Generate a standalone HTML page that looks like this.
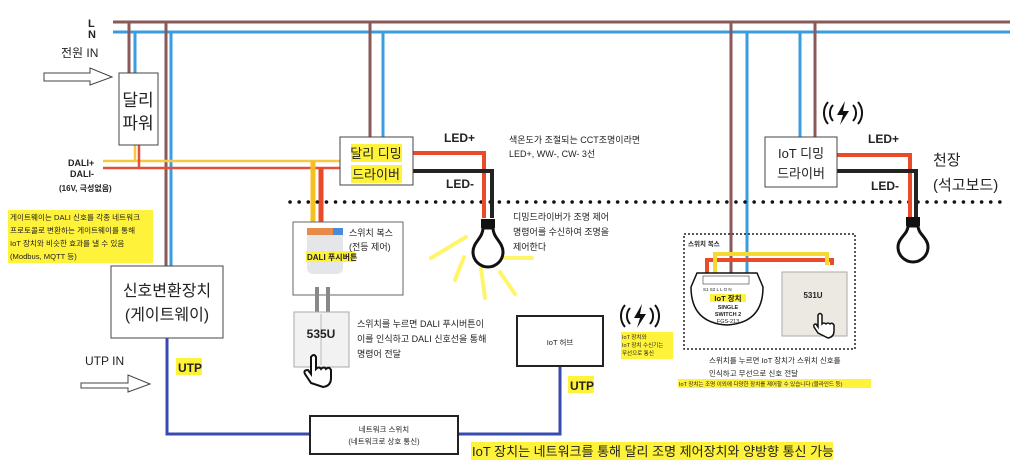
<!DOCTYPE html>
<html><head><meta charset="utf-8"><style>
html,body{margin:0;padding:0;background:#fff}
svg{display:block}
text{font-family:"Liberation Sans","Noto Sans CJK KR",sans-serif;fill:#222}
.b{font-weight:bold}
</style></head><body>
<svg width="1024" height="473" viewBox="0 0 1024 473" xmlns="http://www.w3.org/2000/svg">
<line x1="113" y1="22" x2="1010" y2="22" stroke="#8a5a5a" stroke-width="3"/>
<line x1="113" y1="32" x2="1010" y2="32" stroke="#3a9de0" stroke-width="3"/>
<line x1="129" y1="22" x2="129" y2="73" stroke="#8a5a5a" stroke-width="3"/>
<line x1="135" y1="32" x2="135" y2="73" stroke="#3a9de0" stroke-width="3"/>
<line x1="166" y1="22" x2="166" y2="266" stroke="#8a5a5a" stroke-width="3"/>
<line x1="171" y1="32" x2="171" y2="266" stroke="#3a9de0" stroke-width="3"/>
<line x1="370" y1="22" x2="370" y2="137" stroke="#8a5a5a" stroke-width="3"/>
<line x1="383" y1="32" x2="383" y2="137" stroke="#3a9de0" stroke-width="3"/>
<line x1="731" y1="22" x2="731" y2="275" stroke="#8a5a5a" stroke-width="3"/>
<line x1="747" y1="32" x2="747" y2="275" stroke="#3a9de0" stroke-width="3"/>
<line x1="800" y1="32" x2="800" y2="137" stroke="#3a9de0" stroke-width="3"/>
<line x1="815" y1="22" x2="815" y2="137" stroke="#8a5a5a" stroke-width="3"/>
<line x1="103" y1="161" x2="340" y2="161" stroke="#f5c842" stroke-width="2.5"/>
<line x1="103" y1="168" x2="340" y2="168" stroke="#e0503a" stroke-width="2.5"/>
<line x1="135" y1="145" x2="135" y2="161" stroke="#f5c842" stroke-width="2.5"/>
<line x1="139" y1="145" x2="139" y2="168" stroke="#e0503a" stroke-width="2.5"/>
<line x1="313" y1="161" x2="313" y2="232" stroke="#f5c020" stroke-width="5"/>
<line x1="321" y1="168" x2="321" y2="232" stroke="#e84a2a" stroke-width="5"/>
<text x="88" y="27" class="b" font-size="11">L</text>
<text x="88" y="38" class="b" font-size="11">N</text>
<text x="61" y="57" font-size="12">전원 IN</text>
<polygon points="44,73 90,73 90,68 112,77 90,85 90,81 44,81" fill="#fff" stroke="#444"/>
<rect x="119" y="73" width="39" height="72" fill="#fff" stroke="#444"/>
<text x="138" y="106" font-size="17" text-anchor="middle">달리</text>
<text x="138" y="129" font-size="17" text-anchor="middle">파워</text>
<text x="68" y="166" class="b" font-size="9">DALI+</text>
<text x="70" y="177" class="b" font-size="9">DALI-</text>
<text x="59" y="191" class="b" font-size="8">(16V, 극성없음)</text>
<rect x="8" y="210" width="145" height="53" fill="#fff23a"/>
<text font-size="7.6"><tspan x="10" y="220">게이트웨이는 DALI 신호를 각종 네트워크</tspan><tspan x="10" y="233">프로토콜로 변환하는 게이트웨이를 통해</tspan><tspan x="10" y="246">IoT 장치와 비슷한 효과를 낼 수 있음</tspan><tspan x="10" y="259">(Modbus, MQTT 등)</tspan></text>
<rect x="111" y="266" width="112" height="72" fill="#fff" stroke="#444"/>
<text x="167" y="296" font-size="16" text-anchor="middle">신호변환장치</text>
<text x="167" y="320" font-size="16" text-anchor="middle">(게이트웨이)</text>
<text x="85" y="365" font-size="12">UTP IN</text>
<polygon points="81,383 128,383 128,375 150,384 128,392 128,388 81,388" fill="#fff" stroke="#444"/>
<polyline points="167,338 167,434 310,434" fill="none" stroke="#3a4bb0" stroke-width="3"/>
<polyline points="458,434 560,434 560,366" fill="none" stroke="#3a4bb0" stroke-width="3"/>
<rect x="176" y="358" width="26" height="17" fill="#fff23a"/>
<text x="178" y="372" class="b" font-size="12">UTP</text>
<rect x="310" y="416" width="148" height="38" fill="#fff" stroke="#222" stroke-width="2"/>
<text x="384" y="432" font-size="7.5" text-anchor="middle">네트워크 스위치</text>
<text x="384" y="444" font-size="7.5" text-anchor="middle">(네트워크로 상호 통신)</text>
<rect x="471" y="442" width="362" height="18" fill="#fff23a"/>
<text x="472" y="456" font-size="13">IoT 장치는 네트워크를 통해 달리 조명 제어장치와 양방향 통신 가능</text>
<line x1="290" y1="202" x2="1002" y2="202" stroke="#111" stroke-width="3.5" stroke-dasharray="0.1,9" stroke-linecap="round"/>
<polyline points="413,153 484,153 484,218" fill="none" stroke="#e84a2a" stroke-width="4"/>
<polyline points="413,171 492,171 492,218" fill="none" stroke="#222" stroke-width="4"/>
<rect x="340" y="137" width="73" height="48" fill="#fff" stroke="#444"/>
<rect x="351" y="144" width="51" height="18" fill="#fff23a"/>
<rect x="351" y="165" width="51" height="18" fill="#fff23a"/>
<text x="376" y="158" font-size="13" text-anchor="middle">달리 디밍</text>
<text x="376" y="179" font-size="13" text-anchor="middle">드라이버</text>
<text x="444" y="142" class="b" font-size="12">LED+</text>
<text x="446" y="188" class="b" font-size="12">LED-</text>
<text font-size="9"><tspan x="509" y="143">색온도가 조절되는 CCT조명이라면</tspan><tspan x="509" y="157">LED+, WW-, CW- 3선</tspan></text>
<text font-size="9"><tspan x="513" y="220">디밍드라이버가 조명 제어</tspan><tspan x="513" y="235">명령어를 수신하여 조명을</tspan><tspan x="513" y="250">제어한다</tspan></text>
<g stroke="#fff56a" stroke-width="4" stroke-linecap="round">
<line x1="466" y1="237" x2="431" y2="258"/><line x1="464" y1="257" x2="455" y2="280"/>
<line x1="481" y1="268" x2="485" y2="298"/><line x1="500" y1="272" x2="515" y2="294"/>
<line x1="504" y1="258" x2="532" y2="258"/>
</g>
<rect x="481" y="219" width="14" height="9" fill="#111"/>
<path d="M483,228 C483,238 473,242 473,252 A15,15 0 0 0 503,252 C503,242 493,238 493,228 Z" fill="#fff" stroke="#111" stroke-width="3"/>
<rect x="293" y="222" width="110" height="73" fill="#fff" stroke="#666"/>
<rect x="307" y="228" width="36" height="46" rx="6" fill="#e4e6ea"/>
<rect x="307" y="228" width="36" height="7" fill="#e88a4a"/>
<rect x="333" y="228" width="10" height="7" fill="#4a8ad8"/>
<rect x="306" y="251" width="49" height="11" fill="#fff23a"/>
<text x="307" y="260" class="b" font-size="8">DALI 푸시버튼</text>
<text font-size="9"><tspan x="349" y="236">스위치 복스</tspan><tspan x="349" y="250">(전등 제어)</tspan></text>
<line x1="317" y1="287" x2="317" y2="312" stroke="#888" stroke-width="4"/>
<line x1="328" y1="287" x2="328" y2="312" stroke="#888" stroke-width="4"/>
<rect x="294" y="312" width="55" height="55" fill="#f2f2f2" stroke="#aaa"/>
<line x1="321" y1="314" x2="321" y2="365" stroke="#bbb"/>
<text x="321" y="338" class="b" font-size="12" text-anchor="middle">535U</text>
<path d="M311,383 l-6,-9 q-2,-4 3,-4 l3,4 v-17 q3,-4 5,0 v12 q3,-3 5,0 q3,-3 5,0 q3,-3 5,1 v8 q0,8 -8,9 z" fill="#fff" stroke="#111" stroke-width="2"/>
<text font-size="9"><tspan x="357" y="327">스위치를 누르면 DALI 푸시버튼이</tspan><tspan x="357" y="342">이를 인식하고 DALI 신호선을 통해</tspan><tspan x="357" y="357">명령어 전달</tspan></text>
<rect x="517" y="316" width="86" height="50" fill="#fff" stroke="#222" stroke-width="2"/>
<text x="560" y="345" font-size="7.5" text-anchor="middle">IoT 허브</text>
<rect x="568" y="376" width="26" height="17" fill="#fff23a"/>
<text x="570" y="390" class="b" font-size="12">UTP</text>
<g transform="translate(640,316)" fill="none" stroke="#111" stroke-width="2">
<path d="M-10,-8 a12,12 0 0 0 0,16"/><path d="M-15,-11 a17,17 0 0 0 0,22"/>
<path d="M10,-8 a12,12 0 0 1 0,16"/><path d="M15,-11 a17,17 0 0 1 0,22"/>
<polygon points="2,-12 -6,2 0,2 -3,12 6,-2 0,-2" fill="#111" stroke="none"/>
</g>
<rect x="621" y="332" width="52" height="27" fill="#fff23a"/>
<text font-size="5.5"><tspan x="622" y="339">IoT 장치와</tspan><tspan x="622" y="347">IoT 장치 수신기는</tspan><tspan x="622" y="355">무선으로 통신</tspan></text>
<g transform="translate(843,113)" fill="none" stroke="#111" stroke-width="2">
<path d="M-10,-8 a12,12 0 0 0 0,16"/><path d="M-15,-11 a17,17 0 0 0 0,22"/>
<path d="M10,-8 a12,12 0 0 1 0,16"/><path d="M15,-11 a17,17 0 0 1 0,22"/>
<polygon points="2,-12 -6,2 0,2 -3,12 6,-2 0,-2" fill="#111" stroke="none"/>
</g>
<polyline points="837,155 910,155 910,218" fill="none" stroke="#e84a2a" stroke-width="4"/>
<polyline points="837,171 916,171 916,218" fill="none" stroke="#222" stroke-width="4"/>
<rect x="765" y="137" width="72" height="50" fill="#fff" stroke="#444"/>
<text x="801" y="158" font-size="13" text-anchor="middle">IoT 디밍</text>
<text x="801" y="178" font-size="13" text-anchor="middle">드라이버</text>
<text x="868" y="143" class="b" font-size="12">LED+</text>
<text x="871" y="190" class="b" font-size="12">LED-</text>
<text x="933" y="165" font-size="15">천장</text>
<text x="933" y="190" font-size="15">(석고보드)</text>
<rect x="906" y="217" width="14" height="9" fill="#111"/>
<path d="M908,226 C908,234 898,238 898,247 A15,15 0 0 0 928,247 C928,238 918,234 918,226 Z" fill="#fff" stroke="#111" stroke-width="3"/>
<rect x="684" y="234" width="171" height="115" fill="none" stroke="#222" stroke-width="1.5" stroke-dasharray="2,2"/>
<text x="688" y="246" class="b" font-size="6.5">스위치 복스</text>
<polyline points="707,274 707,260 832,260 832,265" fill="none" stroke="#e84a2a" stroke-width="4"/>
<polyline points="715,274 715,254 827,254 827,265" fill="none" stroke="#f5d830" stroke-width="4"/>
<path d="M697,273 h60 l6,14 q0,36 -36,38 q-36,-2 -36,-38 z" fill="#fff" stroke="#111" stroke-width="1.5"/>
<rect x="703" y="276" width="46" height="8" fill="#fff" stroke="#555" stroke-width="0.7"/>
<text x="703" y="291" font-size="4.5">S1 S2 L  L  O  N</text>
<rect x="710" y="294" width="36" height="8" fill="#fff23a"/>
<text x="728" y="301" class="b" font-size="7.5" text-anchor="middle">IoT 장치</text>
<text x="728" y="309" class="b" font-size="5.5" text-anchor="middle">SINGLE</text>
<text x="728" y="316" class="b" font-size="5.5" text-anchor="middle">SWITCH 2</text>
<text x="728" y="323" font-size="5.5" text-anchor="middle">FGS-213</text>
<rect x="782" y="272" width="65" height="64" fill="#ece9e2" stroke="#aaa"/>
<text x="813" y="298" class="b" font-size="8" text-anchor="middle">531U</text>
<path d="M818,333 l-4,-6 q-1,-3 2,-3 l2,3 v-12 q2,-3 4,0 v9 q2,-2 4,0 q2,-2 4,0 q2,-2 4,1 v6 q0,6 -6,7 z" fill="#fff" stroke="#111" stroke-width="1.5"/>
<text font-size="7.5"><tspan x="709" y="363">스위치를 누르면 IoT 장치가 스위치 신호를</tspan><tspan x="709" y="376">인식하고 무선으로 신호 전달</tspan></text>
<rect x="678" y="379" width="193" height="9" fill="#fff23a"/>
<text x="679" y="386" font-size="5.5">IoT 장치는 조명 이외에 다양한 장치를 제어할 수 있습니다 (블라인드 등)</text>
</svg>
</body></html>
